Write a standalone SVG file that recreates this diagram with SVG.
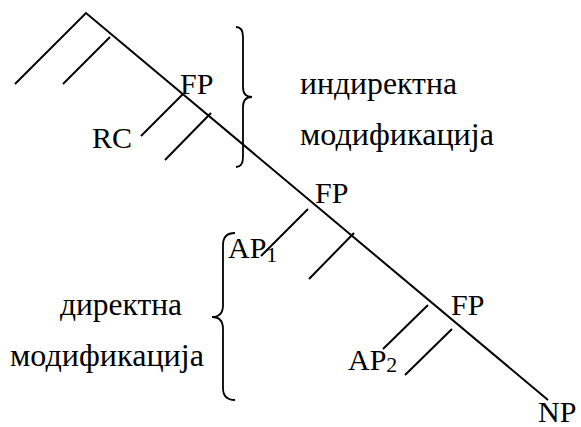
<svg xmlns="http://www.w3.org/2000/svg" width="581" height="427" viewBox="0 0 581 427">
<style>
.l{stroke:#000;stroke-width:2;fill:none;stroke-linecap:butt}
.b{stroke:#000;stroke-width:1.8;fill:none}
text{font-family:"Liberation Serif","Times New Roman",serif;font-size:30px;fill:#000}
.c{font-size:31px}
.s{font-size:22px}
</style>
<rect width="581" height="427" fill="#fff"/>
<g id="connectors">
<path class="l" d="M15,84 L86,13 L548,400"/>
<line class="l" x1="110" y1="37" x2="63" y2="84"/>
<line class="l" x1="183" y1="94" x2="141" y2="136"/>
<line class="l" x1="211" y1="113" x2="165" y2="160"/>
<line class="l" x1="308" y1="209" x2="261" y2="256"/>
<line class="l" x1="354" y1="233" x2="309" y2="279"/>
<line class="l" x1="428" y1="305" x2="383" y2="349"/>
<line class="l" x1="452" y1="329" x2="405" y2="375"/>
</g>
<g id="brace-indirect">
<path class="b" d="M236,27 Q243,27 243,37 L243,87 Q243,97 252,97 Q243,97 243,107 L243,157 Q243,167 236,167"/>
<text class="c" x="300" y="94" textLength="157" lengthAdjust="spacingAndGlyphs">индиректна</text>
<text class="c" x="300" y="145" textLength="194" lengthAdjust="spacingAndGlyphs">модификација</text>
</g>
<g id="brace-direct">
<path class="b" d="M235,233 Q223,233 223,245 L223,305 Q223,317 212,317 Q223,317 223,329 L223,388 Q223,400 235,400"/>
<text class="c" x="60" y="315" textLength="122" lengthAdjust="spacingAndGlyphs">директна</text>
<text class="c" x="10" y="366" textLength="194" lengthAdjust="spacingAndGlyphs">модификација</text>
</g>
<g id="node-fp1"><text x="180" y="94">FP</text></g>
<g id="node-rc"><text x="92" y="148">RC</text></g>
<g id="node-fp2"><text x="315" y="203">FP</text></g>
<g id="node-ap1"><text x="228" y="258">AP<tspan class="s" dy="4">1</tspan></text></g>
<g id="node-fp3"><text x="451" y="315">FP</text></g>
<g id="node-ap2"><text x="348" y="370">AP<tspan class="s" dy="2">2</tspan></text></g>
<g id="node-np"><text x="538" y="422">NP</text></g>
</svg>
